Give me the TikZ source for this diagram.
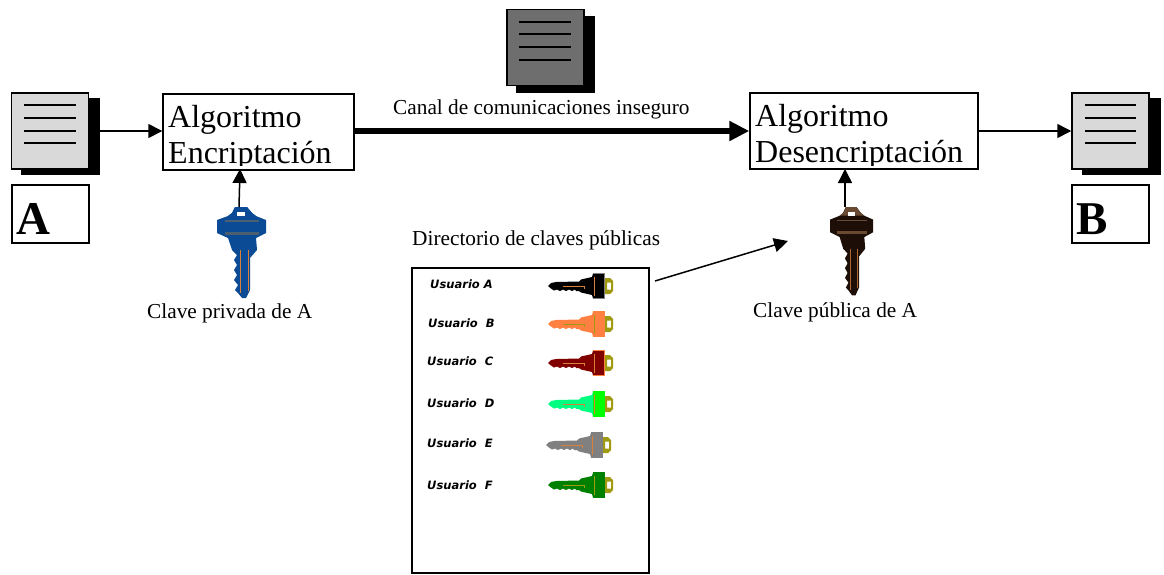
\documentclass[tikz,border=0pt]{standalone}
\usepackage{fontspec}
\setmainfont{Liberation Serif}
\newfontfamily\usrfont{DejaVu Sans}
\usetikzlibrary{arrows.meta}
\tikzset{
  x=1pt,y=-1pt,
  conn/.style={draw=black,line width=1.5pt,-{Triangle[length=14pt,width=14pt]}},
  thickconn/.style={draw=black,line width=6.5pt,-{Triangle[length=20pt,width=19pt]}},
  algobox/.style={draw=black,line width=1.4pt,fill=white,inner sep=0pt,minimum height=76pt},
  algotext/.style={inner sep=0pt,align=left,anchor=west,font=\fontsize{32}{36}\selectfont},
  labelbox/.style={draw=black,line width=1.4pt,fill=white,minimum width=77pt,minimum height=58pt,inner sep=0pt},
  bigletter/.style={font=\fontsize{47}{47}\selectfont\bfseries,anchor=base west,inner sep=0pt},
  caption/.style={font=\fontsize{21.3}{24}\selectfont,anchor=base west,inner sep=0pt},
  usr/.style={font=\fontsize{11.5}{13}\selectfont\usrfont\bfseries\itshape,anchor=base west,inner sep=0pt},
  docfront/.style={draw=black,line width=1.5pt,minimum width=77pt,minimum height=76pt,inner sep=0pt},
  docshadow/.style={fill=black,minimum width=79pt,minimum height=77pt,inner sep=0pt},
  docline/.style={draw=black,line width=1.2pt},
}
% horizontal key: tip at origin, bow at u=65, serrations on the +v side
\newcommand{\hkey}[6]{% x,y,body,head,groove,edge
  \begin{scope}[shift={(#1,#2)}]
  \fill[#3] (0,0)--(3,-3)--(8,-4)--(31,-4.5)--(33,-6.5)--(44,-9)--(45,-12.5)--(56,-12.5)
    --(56,12.5)--(45,12.5)--(44,9)--(33,6.5)--(31,5)--(28,5)--(27,3.5)--(24,5)--(21,3.5)
    --(18,5)--(15,3.5)--(12,5)--(9,3.5)--(6,4.5)--(3,2.5)--cycle;
  \fill[#4] (45,-12.5) rectangle (56,12.5);
  \fill[keyolive,even odd rule] (56,-8)--(62,-8)--(65,-5)--(65,5)--(62,8)--(56,8)--cycle
    (59,-3.5) rectangle (63,3.5);
  \draw[#5,line width=.8pt] (15,0)--(36,0)--(36,3);
  \draw[#5,line width=.8pt] (46,-9)--(46,10);
  \draw[#6,line width=.6pt] (45,-12.5)--(56,-12.5)--(56,12.5)--(45,12.5);
  \end{scope}
}
% vertical key: local x from the axis, local y from the top
\newcommand{\vkey}[8]{% x,y,xs,ys,body,band,line,bow
  \begin{scope}[shift={(#1,#2)},xscale=#3,yscale=#4]
  \fill[#5] (-7,0)--(5,0)--(10,6)--(14,9)--(24,13)--(24,26)--(14,31)--(15,43)--(8,51)--(8,83)
    --(4,91)--(0,91)--(-4,86)--(-7,83)--(-4,78)--(-8,73)--(-5,68)--(-8,63)--(-5,58)--(-8,53)
    --(-5,48)--(-10,43)--(-14,31)--(-25,26)--(-25,13)--(-14,9)--(-10,6)--cycle;
  \fill[#8] (-7,0)--(5,0)--(10,6)--(14,9)--(-14,9)--(-10,6)--cycle;
  \fill[white] (-5,5) rectangle (3,9);
  \fill[#6] (-17,25) rectangle (17,28);
  \fill[#6] (-17,13) rectangle (17,14.5);
  \draw[#7,line width=1pt] (-2,43)--(-2,86);
  \draw[#7,line width=1pt] (6,43)--(6,84);
  \end{scope}
}
\definecolor{keyblue}{HTML}{0B4A94}
\definecolor{keyband}{HTML}{4A5F70}
\definecolor{keyolive}{HTML}{A09A10}
\definecolor{keyorange}{HTML}{D8803A}
\definecolor{keybrown}{HTML}{1E0E08}
\definecolor{keybrownb}{HTML}{6A4A30}
\definecolor{keysalmon}{HTML}{FF8040}
\definecolor{keymint}{HTML}{00FF80}
\definecolor{docgray}{HTML}{D9D9D9}
\definecolor{docdark}{HTML}{6E6E6E}
\begin{document}
\begin{tikzpicture}
\useasboundingbox (0,0) rectangle (1164,574);
\fill[white] (0,0) rectangle (1164,574);

% documents
\node[docshadow] (shA) at (60.5,136.5) {};
\node[docfront,fill=docgray] (docA) at (50,131) {};
\foreach \yy in {105,118,131,143} \draw[docline] (24,\yy)--(76,\yy);

\node[docshadow] (shB) at (1121.5,136.5) {};
\node[docfront,fill=docgray] (docB) at (1110.5,131) {};
\foreach \yy in {105,118,131,143} \draw[docline] (1085,\yy)--(1136,\yy);

\node[docshadow] (shC) at (555.5,54) {};
\node[docfront,fill=docdark] (docC) at (545.5,47.5) {};
\foreach \yy in {22,34,47,60} \draw[docline] (519,\yy)--(571,\yy);

% boxes
\node[labelbox] (labA) at (50.5,214) {};
\node[bigletter] (txtA) at (16,234) {A};
\node[labelbox] (labB) at (1110.5,214) {};
\node[bigletter] (txtB) at (1076,234) {B};

\node[algobox,minimum width=191pt] (enc) at (258.5,132) {};
\node[algobox,minimum width=228pt] (dec) at (864,131) {};
\begin{scope}
  \clip (150,80) rectangle (1000,165.5);
  \node[algotext] (enctxt) at (168,138) {Algoritmo\\Encriptación};
  \node[algotext] (dectxt) at (755,137) {Algoritmo\\Desencriptación};
\end{scope}

% texts
\node[caption] (canal) at (393,114) {Canal de comunicaciones inseguro};
\node[caption] (dirt) at (412,245) {Directorio de claves públicas};
\node[caption] (cpriv) at (147,318) {Clave privada de A};
\node[caption] (cpub) at (753,317) {Clave pública de A};

% vertical keys
\vkey{242}{207}{1}{1}{keyblue}{keyband}{keyorange}{keyblue}
\vkey{852}{207}{.88}{.97}{keybrown}{keybrownb}{keyorange!80!black}{keybrownb}
\coordinate (kpriv) at (239,207);
\coordinate (kprivT) at (240,169);
\coordinate (kpub) at (845,207);
\coordinate (kpubT) at (845,169);

% directory
\node[draw=black,line width=2.6pt,minimum width=237pt,minimum height=305pt,inner sep=0pt] (dir) at (530.5,420.5) {};
\node[usr] (ua) at (430,288) {Usuario A};
\node[usr] (ub) at (428,327) {Usuario\ \ B};
\node[usr] (uc) at (427,365) {Usuario\ \ C};
\node[usr] (ud) at (427,407) {Usuario\ \ D};
\node[usr] (ue) at (427,447) {Usuario\ \ E};
\node[usr] (uf) at (427,489) {Usuario\ \ F};

\hkey{548}{286}{black}{black}{keyorange}{gray}
\hkey{548}{324}{keysalmon}{keysalmon}{keyolive}{keysalmon}
\hkey{548}{363}{black!50!red}{black!50!red}{keyorange}{keysalmon}
\hkey{548}{404}{keymint}{green}{keyorange}{green}
\hkey{546}{445}{black!50}{black!50}{keyorange}{black!50}
\hkey{548}{485}{green!50!black}{green!50!black}{keyolive}{green!50!black}

\coordinate (dirS) at (655,281);
\coordinate (dirE) at (788,241);

% connectors
\draw[conn] (docA.east) -- (docA.east -| enc.west);
\draw[thickconn] (dec.west -| enc.east) -- (dec.west);
\draw[conn] (dec.east) -- (docB.west);
\draw[conn] (kpriv) -- (kprivT);
\draw[conn] (kpub) -- (kpubT);
\draw[conn] (dirS) -- (dirE);
\end{tikzpicture}
\end{document}
